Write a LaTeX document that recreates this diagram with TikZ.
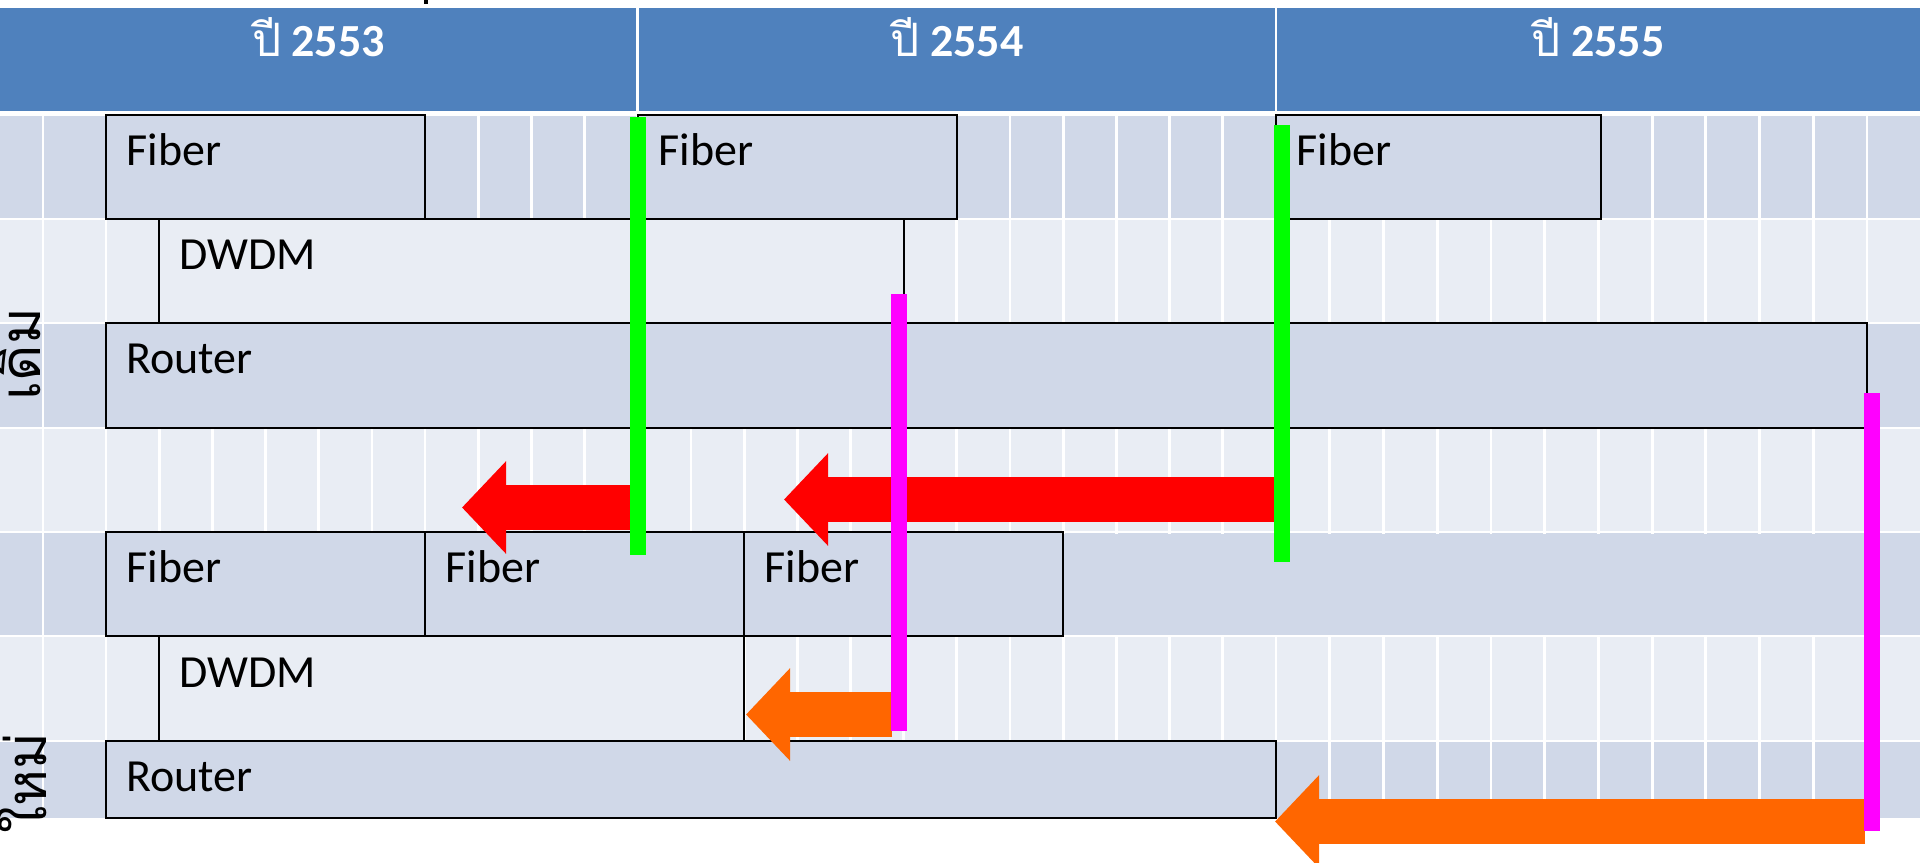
\documentclass[tikz,border=0pt]{standalone}
\usepackage{fontspec}
\setmainfont{Carlito}
\newfontfamily\thaifont[Script=Thai]{Loma}
\usetikzlibrary{arrows.meta}
\definecolor{hdrblue}{HTML}{4F81BD}
\definecolor{rowdark}{HTML}{D0D8E8}
\definecolor{rowlight}{HTML}{E9EDF4}
\definecolor{arrred}{HTML}{FF0000}
\definecolor{arrorange}{HTML}{FF6600}
\definecolor{bargreen}{HTML}{00FF00}
\definecolor{barmag}{HTML}{FF00FF}
\begin{document}
\begin{tikzpicture}[x=0.5pt,y=-0.5pt,
  gridline/.style={white, line width=1.4pt},
  taskbox/.style={draw=black, line width=1.1pt},
  tasktext/.style={anchor=base west, inner sep=0pt, font=\fontsize{23}{27}\selectfont},
  hdrtext/.style={anchor=base, inner sep=0pt, text=white, font=\fontsize{23}{27}\selectfont},
  sidelabel/.style={anchor=base, rotate=90, inner sep=0pt, font=\thaifont\fontsize{28}{32}\selectfont},
  redarrow/.style={draw=arrred, line width=22.5pt, -{Triangle[width=45pt,length=22pt]}},
  orangearrow/.style={draw=arrorange, line width=22.5pt, -{Triangle[width=45pt,length=22pt]}}
]
\clip (0,0) rectangle (1920,862);
\fill[white] (0,0) rectangle (1920,862);
% clipped mark at top
\fill[black] (424,0) rectangle (428,4);
% header
\fill[hdrblue] (0,8) rectangle (1920,111);
\draw[gridline] (637.5,8) -- (637.5,111);
\draw[gridline] (1276,8) -- (1276,111);
\node[hdrtext] (y53) at (318.5,56) {{\thaifont ปี} {\bfseries 2553}};
\node[hdrtext] (y54) at (957,56) {{\thaifont ปี} {\bfseries 2554}};
\node[hdrtext] (y55) at (1598,56) {{\thaifont ปี} {\bfseries 2555}};
% rows
\fill[rowdark] (0,116) rectangle (1920,219);
\fill[rowlight] (0,219) rectangle (1920,323);
\fill[rowdark] (0,323) rectangle (1920,428);
\fill[rowlight] (0,428) rectangle (1920,532);
\fill[rowdark] (0,532) rectangle (1920,636);
\fill[rowlight] (0,636) rectangle (1920,741);
\fill[rowdark] (0,741) rectangle (1920,818);
% grid
\foreach \y in {219,323,428,532,636,741} \draw[gridline] (0,\y) -- (1920,\y);
\foreach \x in {43,106} \draw[gridline] (\x,116) -- (\x,818);
\foreach \k in {1,...,22} \draw[gridline] ({106+53.18*\k},116) -- ++(0,702);
\foreach \k in {1,...,11} \draw[gridline] ({1276+53.73*\k},116) -- ++(0,702);
% merged empty region in row 5
\fill[rowdark] (1063,533.5) rectangle (1865.5,634.5);
% old plan boxes
\filldraw[taskbox, fill=rowdark] (106,115) rectangle (425,219);
\filldraw[taskbox, fill=rowdark] (638,115) rectangle (957,219);
\filldraw[taskbox, fill=rowdark] (1276,115) rectangle (1601,219);
\filldraw[taskbox, fill=rowlight] (159,219) rectangle (904,323);
\filldraw[taskbox, fill=rowdark] (106,323) rectangle (1867,428);
% new plan boxes
\filldraw[taskbox, fill=rowdark] (106,532) rectangle (425,636);
\filldraw[taskbox, fill=rowdark] (425,532) rectangle (744,636);
\filldraw[taskbox, fill=rowdark] (744,532) rectangle (1063,636);
\filldraw[taskbox, fill=rowlight] (159,636) rectangle (744,741);
\filldraw[taskbox, fill=rowdark] (106,741) rectangle (1276,818);
% texts
\node[tasktext] (fa) at (126,165) {Fiber};
\node[tasktext] (fb) at (658,165) {Fiber};
\node[tasktext] (fc) at (1296,165) {Fiber};
\node[tasktext] (da) at (179,269) {DWDM};
\node[tasktext] (ra) at (126,373) {Router};
\node[tasktext] (fd) at (126,582) {Fiber};
\node[tasktext] (fe) at (445,582) {Fiber};
\node[tasktext] (ff) at (764,582) {Fiber};
\node[tasktext] (db) at (179,687) {DWDM};
\node[tasktext] (rb) at (126,791) {Router};
\node[sidelabel] (old) at (40,354) {เดิม};
\node[sidelabel] (new) at (46,783) {ใหม่};
% arrow end points
\coordinate (r1tail) at (631,507.5);
\coordinate (r1tip) at (462,507.5);
\coordinate (r2tail) at (1275,499.5);
\coordinate (r2tip) at (784,499.5);
\coordinate (o1tail) at (892,714.5);
\coordinate (o1tip) at (746,714.5);
\coordinate (o2tail) at (1865,821.5);
\coordinate (o2tip) at (1275,821.5);
\draw[redarrow] (r1tail) -- (r1tip);
\draw[redarrow] (r2tail) -- (r2tip);
\draw[orangearrow] (o1tail) -- (o1tip);
\draw[orangearrow] (o2tail) -- (o2tip);
% milestone bars
\fill[bargreen] (630,117) rectangle (646,555);
\fill[bargreen] (1274,125) rectangle (1290,562);
\fill[barmag] (891,294) rectangle (907,731);
\fill[barmag] (1864,393) rectangle (1880,831);
\end{tikzpicture}
\end{document}
